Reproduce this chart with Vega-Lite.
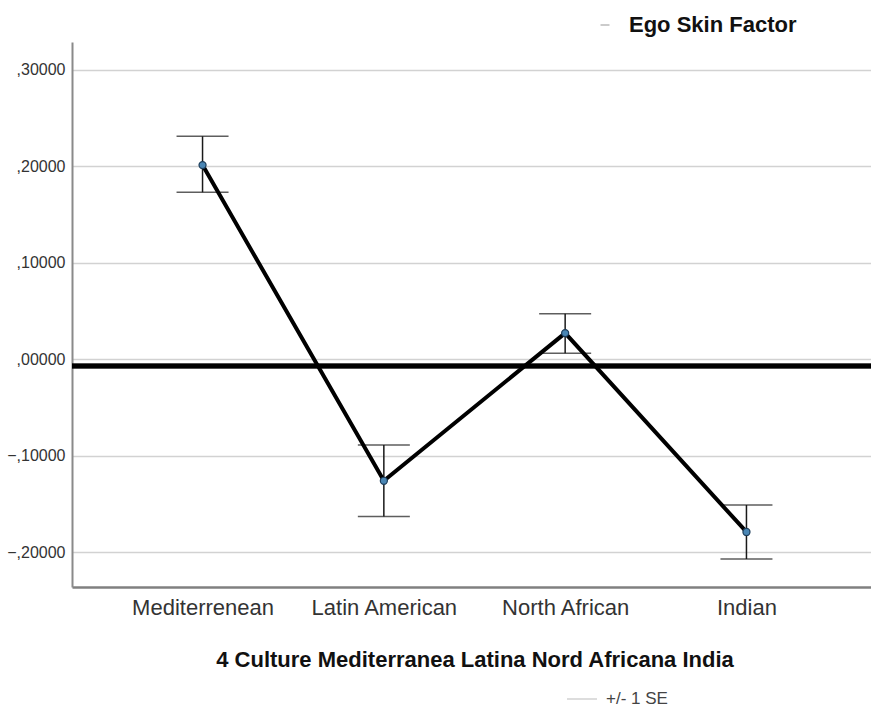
{
  "$schema": "https://vega.github.io/schema/vega-lite/v6.json",
  "width": 799,
  "height": 545,
  "autosize": {"type": "none"},
  "padding": {"left": 72, "top": 42, "right": 0, "bottom": 126},
  "background": "white",
  "config": {"view": {"stroke": null}, "font": "Liberation Sans"},
  "data": {
    "values": [
      {"culture": "Mediterrenean", "mean": 0.201, "lo": 0.173, "hi": 0.231, "series": "Ego Skin Factor", "se": "+/- 1 SE"},
      {"culture": "Latin American", "mean": -0.126, "lo": -0.163, "hi": -0.089, "series": "Ego Skin Factor", "se": "+/- 1 SE"},
      {"culture": "North African", "mean": 0.027, "lo": 0.006, "hi": 0.047, "series": "Ego Skin Factor", "se": "+/- 1 SE"},
      {"culture": "Indian", "mean": -0.179, "lo": -0.207, "hi": -0.151, "series": "Ego Skin Factor", "se": "+/- 1 SE"}
    ]
  },
  "layer": [
    {
      "mark": {"type": "rule", "strokeWidth": 1.5, "color": "#1a1a1a"},
      "encoding": {
        "x": {
          "field": "culture", "type": "nominal", "sort": null,
          "scale": {"type": "point", "range": [0, 805], "padding": 0.72},
          "axis": {
            "title": "4 Culture Mediterranea Latina Nord Africana India",
            "titleFont": "Liberation Sans", "titleFontSize": 22, "titleFontWeight": "bold", "titleColor": "#111",
            "titlePadding": 31,
            "labelFontSize": 22, "labelColor": "#333", "labelAngle": 0, "labelPadding": 10, "labelLimit": 300,
            "ticks": false, "grid": false,
            "domainColor": "#808080", "domainWidth": 2.5
          }
        },
        "y": {
          "field": "lo", "type": "quantitative",
          "scale": {"domain": [-0.236, 0.3285], "nice": false, "zero": false},
          "axis": {
            "title": null,
            "values": [-0.2, -0.1, 0, 0.1, 0.2, 0.3],
            "labelExpr": "replace(format(datum.value, '.5f'), '0.', ',')",
            "labelFontSize": 16, "labelColor": "#333", "labelPadding": 7,
            "ticks": false,
            "grid": true, "gridColor": "#d2d2d2", "gridWidth": 1.5,
            "domainColor": "#8a8a8a", "domainWidth": 2
          }
        },
        "y2": {"field": "hi"},
        "strokeDash": {
          "field": "se", "type": "nominal",
          "scale": {"range": [[1, 0]]},
          "legend": {
            "title": null, "orient": "none", "legendX": 494, "legendY": 641, "padding": 0,
            "symbolType": "stroke", "symbolSize": 900, "symbolStrokeColor": "#dddddd", "symbolStrokeWidth": 2,
            "labelFontSize": 17, "labelColor": "#444", "labelOffset": 8, "labelBaseline": "middle"
          }
        }
      }
    },
    {
      "mark": {"type": "tick", "size": 52, "thickness": 1.5, "color": "#1a1a1a"},
      "encoding": {
        "x": {"field": "culture", "type": "nominal", "sort": null},
        "y": {"field": "lo", "type": "quantitative"}
      }
    },
    {
      "mark": {"type": "tick", "size": 52, "thickness": 1.5, "color": "#1a1a1a"},
      "encoding": {
        "x": {"field": "culture", "type": "nominal", "sort": null},
        "y": {"field": "hi", "type": "quantitative"}
      }
    },
    {
      "mark": {"type": "rule", "strokeWidth": 4.5, "color": "#000"},
      "encoding": {"y": {"datum": -0.007}}
    },
    {
      "mark": {"type": "line", "strokeWidth": 4},
      "encoding": {
        "x": {"field": "culture", "type": "nominal", "sort": null},
        "y": {"field": "mean", "type": "quantitative"},
        "color": {
          "field": "series", "type": "nominal",
          "scale": {"range": ["#000000"]},
          "legend": {
            "title": null, "orient": "none", "legendX": 522, "legendY": -28, "padding": 0,
            "symbolType": "stroke", "symbolSize": 80, "symbolStrokeWidth": 2,
            "labelFontSize": 22, "labelFontWeight": "bold", "labelColor": "#111", "labelOffset": 13, "labelLimit": 400,
            "symbolOpacity": 0.2
          }
        }
      }
    },
    {
      "mark": {"type": "point", "filled": true, "size": 50, "fill": "#4a86b4", "stroke": "#1d3d5a", "strokeWidth": 1.2, "opacity": 1},
      "encoding": {
        "x": {"field": "culture", "type": "nominal", "sort": null},
        "y": {"field": "mean", "type": "quantitative"}
      }
    }
  ]
}
